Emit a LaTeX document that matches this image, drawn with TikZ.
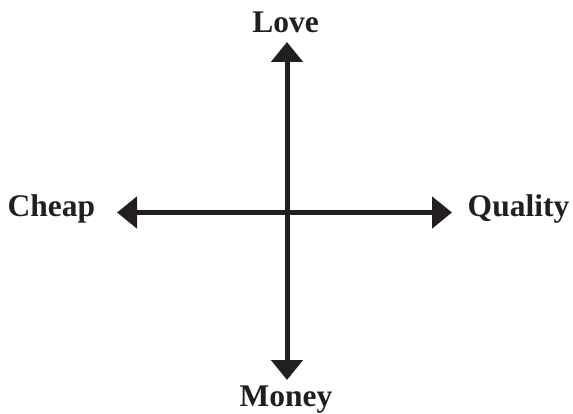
\documentclass[tikz,border=0pt]{standalone}
\usepackage{fontspec}
\setmainfont{Liberation Serif}
\usetikzlibrary{arrows.meta}
\definecolor{ink}{HTML}{231F20}
\begin{document}
\begin{tikzpicture}[x=1pt,y=1pt,
  axis/.style={draw=ink,line width=5pt,{Triangle[width=31pt,length=20pt]}-{Triangle[width=31pt,length=20pt]}},
  lbl/.style={anchor=base,inner sep=0pt,text=ink,font=\fontsize{31.5}{36}\selectfont\bfseries}]
\useasboundingbox (0,0) rectangle (573,-414);
\coordinate (T) at (287,-42);
\coordinate (B) at (287,-380);
\coordinate (L) at (117,-212.5);
\coordinate (R) at (452,-212.5);
\draw[axis] (T) -- (B);
\draw[axis] (L) -- (R);
\node[lbl] (love) at (285.5,-33) {Love};
\node[lbl] (money) at (286,-406) {Money};
\node[lbl] (cheap) at (51.5,-217) {Cheap};
\node[lbl] (quality) at (518.5,-217) {Quality};
\end{tikzpicture}
\end{document}
